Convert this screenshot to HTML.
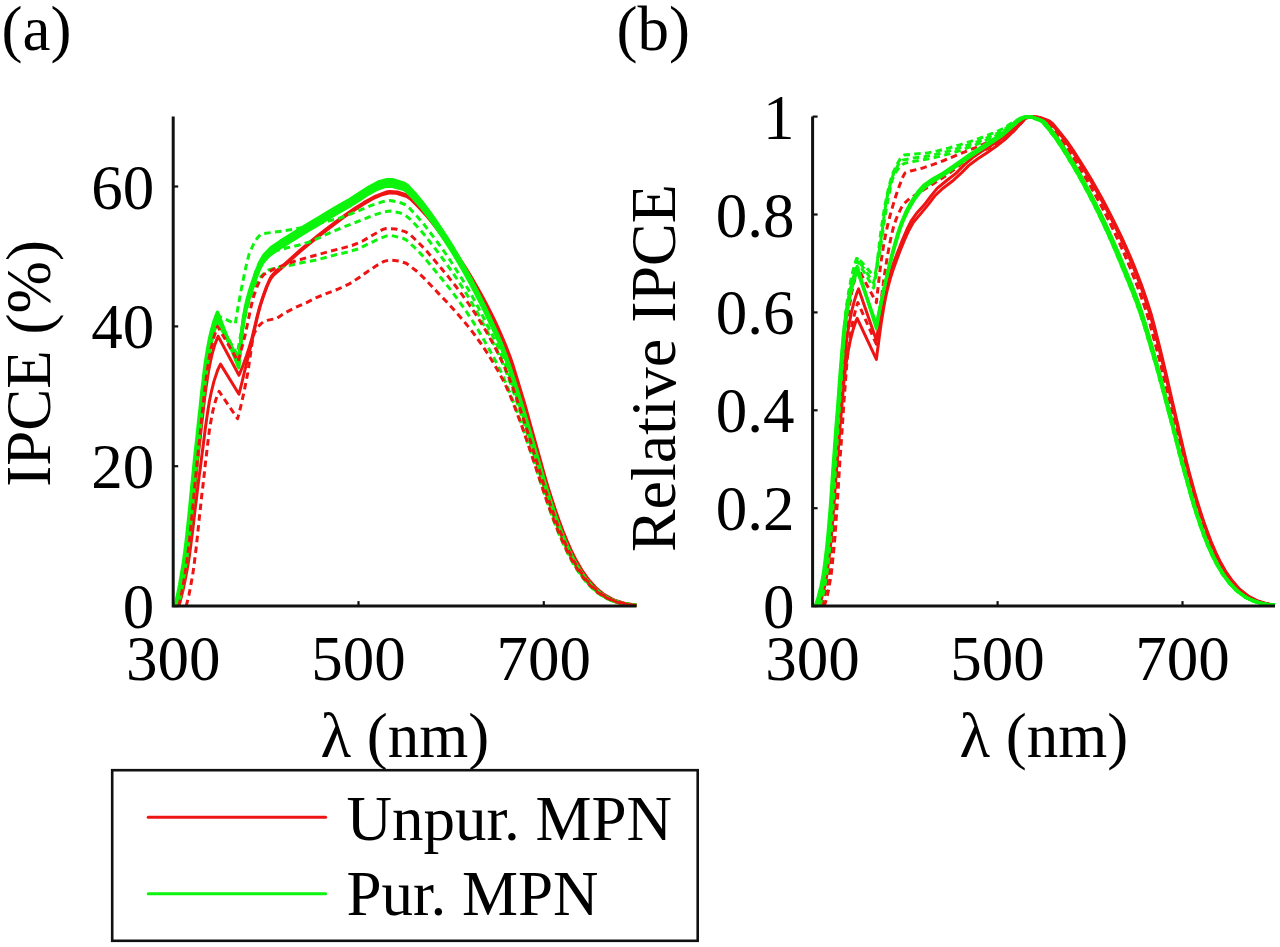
<!DOCTYPE html>
<html><head><meta charset="utf-8"><style>
html,body{margin:0;padding:0;background:#fff;width:1280px;height:947px;overflow:hidden;}
svg{display:block;}
</style></head><body>
<svg width="1280" height="947" viewBox="0 0 1280 947">
<rect width="1280" height="947" fill="#fff"/>
<text x="1.5" y="49.5" font-family="Liberation Serif, serif" font-size="63">(a)</text>
<text x="616.5" y="49.5" font-family="Liberation Serif, serif" font-size="63">(b)</text>
<path d="M178.8,606.1 L181.5,596.4 L183.4,588.5 L185.2,579.6 L187.1,569.8 L189.0,558.5 L189.9,552.0 L190.8,545.1 L191.7,537.8 L192.7,530.3 L193.6,522.6 L194.5,514.7 L195.4,506.9 L196.4,499.0 L197.3,491.3 L198.2,483.8 L199.1,476.5 L200.1,469.5 L201.0,462.4 L201.9,455.1 L202.9,447.8 L203.8,440.5 L204.7,433.2 L205.6,426.2 L206.6,419.4 L207.5,413.1 L209.3,401.7 L211.2,392.5 L214.0,381.1 L217.7,370.0 L220.5,364.1 L239.0,394.2 L241.8,383.0 L244.5,371.7 L247.3,360.3 L250.1,348.9 L252.0,341.0 L253.8,332.7 L255.7,324.3 L257.5,316.3 L260.3,305.9 L264.0,294.6 L267.7,284.8 L270.5,279.1 L273.3,275.3 L281.6,268.1 L290.0,260.7 L298.3,253.2 L306.6,246.1 L315.9,238.5 L325.2,231.2 L334.4,224.2 L343.7,217.4 L353.0,210.9 L362.2,204.9 L372.4,199.0 L381.7,194.9 L390.0,192.9 L396.5,193.3 L406.7,196.5 L410.4,198.9 L418.7,207.3 L426.2,215.4 L433.6,224.6 L440.1,233.1 L446.5,241.9 L453.0,251.2 L459.5,260.9 L465.1,269.6 L470.6,278.6 L476.2,288.0 L481.8,298.0 L487.3,308.4 L492.0,317.7 L496.6,327.4 L501.2,337.6 L504.9,346.4 L508.6,355.9 L512.3,366.5 L515.1,375.1 L517.9,384.0 L520.7,393.2 L523.5,402.4 L526.2,412.0 L529.0,421.9 L531.8,431.8 L534.6,441.7 L537.4,451.4 L540.1,461.3 L542.9,471.2 L545.7,480.9 L548.5,490.1 L551.3,498.8 L555.0,510.1 L558.7,520.8 L562.4,530.7 L566.1,539.7 L570.7,550.3 L575.3,559.7 L580.9,569.2 L587.4,578.7 L594.8,587.1 L603.1,594.3 L613.3,600.0 L624.5,603.5 L635.6,605.2 L636.5,605.3" fill="none" stroke="#ee1414" stroke-width="3.0" stroke-linejoin="round"/>
<path d="M177.8,606.1 L180.6,594.8 L182.5,585.6 L184.3,575.2 L186.2,563.8 L187.1,557.4 L188.0,550.3 L189.0,542.6 L189.9,534.4 L190.8,525.9 L191.7,517.1 L192.7,508.1 L193.6,499.0 L194.5,489.9 L195.4,481.0 L196.4,472.2 L197.3,463.7 L198.2,455.6 L199.1,447.5 L200.1,439.1 L201.0,430.6 L201.9,422.1 L202.9,413.8 L203.8,405.7 L204.7,397.9 L205.6,390.5 L206.6,383.7 L208.4,372.0 L210.3,362.3 L212.1,354.1 L214.9,344.4 L218.1,336.2 L239.0,375.3 L242.7,366.3 L246.4,355.9 L249.2,347.4 L252.0,337.9 L254.7,326.5 L256.6,318.6 L259.4,307.6 L262.2,298.8 L265.9,288.2 L269.6,279.5 L271.4,276.2 L275.1,272.0 L283.5,265.1 L291.8,257.6 L300.1,250.2 L308.5,243.2 L317.7,235.7 L327.0,228.4 L336.3,221.4 L345.5,214.7 L354.8,208.3 L364.1,202.4 L374.3,196.7 L385.4,192.3 L389.1,191.5 L397.4,191.9 L407.6,195.1 L411.3,197.5 L419.7,205.9 L427.1,214.1 L434.5,223.3 L441.0,231.8 L447.5,240.7 L454.0,250.0 L460.4,259.8 L466.0,268.4 L471.6,277.5 L477.1,287.0 L482.7,296.9 L488.2,307.4 L492.9,316.7 L497.5,326.4 L502.1,336.8 L505.8,345.7 L509.6,355.3 L513.3,366.1 L516.0,374.9 L518.8,384.1 L521.6,393.4 L524.4,402.8 L527.2,412.6 L529.9,422.6 L532.7,432.7 L535.5,442.7 L538.3,452.6 L541.1,462.7 L543.8,472.6 L546.6,482.3 L549.4,491.5 L552.2,500.2 L555.9,511.5 L559.6,522.1 L563.3,531.8 L567.0,540.8 L571.6,551.3 L576.3,560.6 L581.8,570.0 L588.3,579.3 L595.7,587.6 L604.1,594.6 L614.3,600.2 L625.4,603.6 L636.5,605.3" fill="none" stroke="#ee1414" stroke-width="3.0" stroke-linejoin="round"/>
<path d="M175.1,606.1 L177.8,600.3 L179.7,591.8 L181.5,582.0 L183.4,571.0 L184.3,565.0 L185.2,558.5 L186.2,551.6 L187.1,544.2 L188.0,536.1 L189.0,527.6 L189.9,518.7 L190.8,509.5 L191.7,500.1 L192.7,490.6 L193.6,481.2 L194.5,471.8 L195.4,462.7 L196.4,453.8 L197.3,445.1 L198.2,436.5 L199.1,427.8 L200.1,419.0 L201.0,410.1 L201.9,401.4 L202.9,392.8 L203.8,384.6 L204.7,376.7 L205.6,369.4 L206.6,362.7 L208.4,351.2 L210.3,341.4 L212.1,333.3 L214.9,323.5 L217.5,316.6 L238.7,364.5 L239.6,354.3 L240.6,344.7 L241.5,335.9 L242.4,327.9 L243.3,321.0 L245.2,310.6 L248.0,299.2 L250.8,290.2 L254.5,279.1 L258.2,269.2 L261.9,261.3 L264.7,257.2 L272.1,250.0 L281.3,243.9 L290.6,238.1 L299.9,232.3 L310.1,226.2 L320.3,220.1 L330.4,213.9 L340.6,207.9 L350.8,202.1 L360.1,196.2 L369.4,190.1 L379.6,184.9 L387.0,182.9 L392.5,182.8 L403.6,186.2 L407.4,188.7 L414.8,196.6 L422.2,205.2 L428.7,213.9 L435.1,223.0 L441.6,232.5 L448.1,242.5 L453.7,251.4 L459.2,260.7 L464.8,270.4 L470.4,280.6 L475.0,289.4 L479.6,298.6 L484.3,308.1 L488.9,317.9 L493.5,327.8 L498.2,338.1 L501.9,346.9 L505.6,356.6 L509.3,367.2 L513.0,378.4 L515.8,386.9 L518.5,395.6 L521.3,404.5 L524.1,413.6 L526.9,422.9 L529.7,432.3 L532.4,441.6 L535.2,451.0 L538.0,460.7 L540.8,470.3 L543.6,479.7 L546.3,488.8 L549.1,497.5 L551.9,506.2 L555.6,517.3 L559.3,527.6 L563.0,537.0 L567.7,547.9 L572.3,557.7 L577.8,567.6 L584.3,577.4 L591.7,586.1 L600.1,593.6 L610.3,599.7 L621.4,603.3 L632.5,605.2 L636.2,605.3" fill="none" stroke="#0cf40c" stroke-width="3.6" stroke-linejoin="round"/>
<path d="M177.8,606.1 L179.7,598.5 L181.5,589.4 L183.4,579.0 L185.2,567.4 L186.2,561.2 L187.1,554.3 L188.0,546.8 L189.0,538.6 L189.9,530.0 L190.8,520.9 L191.7,511.6 L192.7,502.0 L193.6,492.4 L194.5,482.7 L195.4,473.2 L196.4,463.9 L197.3,454.9 L198.2,446.3 L199.1,437.6 L200.1,428.7 L201.0,419.7 L201.9,410.7 L202.9,401.8 L203.8,393.2 L204.7,384.9 L205.6,377.1 L206.6,369.8 L207.5,363.2 L209.3,352.1 L211.2,342.6 L214.0,331.3 L216.8,322.6 L218.1,319.4 L238.7,361.4 L239.6,352.4 L240.6,343.9 L241.5,336.1 L242.4,329.0 L244.3,317.5 L246.1,308.9 L248.9,298.8 L251.7,290.2 L255.4,279.3 L259.1,269.8 L262.8,262.5 L268.4,256.1 L277.6,249.2 L287.8,243.1 L297.1,237.2 L307.3,231.0 L317.5,224.9 L327.7,218.8 L337.9,212.7 L348.0,206.9 L357.3,201.2 L366.6,195.0 L376.8,189.2 L385.1,186.3 L391.6,185.9 L402.7,188.9 L405.5,190.3 L413.8,198.6 L421.3,207.1 L427.7,215.5 L434.2,224.5 L440.7,233.9 L447.2,243.7 L452.8,252.6 L458.3,261.7 L463.9,271.3 L469.4,281.3 L475.0,291.8 L479.6,300.9 L484.3,310.3 L488.9,320.0 L493.5,329.8 L498.2,340.1 L501.9,348.9 L505.6,358.5 L509.3,369.0 L513.0,380.0 L516.7,391.4 L519.5,400.0 L522.3,409.0 L525.0,418.1 L527.8,427.4 L530.6,436.6 L533.4,445.9 L536.1,455.4 L538.9,464.9 L541.7,474.4 L544.5,483.7 L547.3,492.6 L550.0,501.2 L553.8,512.5 L557.5,523.2 L561.2,532.9 L564.9,542.0 L569.5,552.4 L574.1,561.5 L579.7,570.8 L586.2,580.0 L593.6,588.1 L601.9,595.0 L612.1,600.5 L623.2,603.7 L634.4,605.3 L636.2,605.3" fill="none" stroke="#0cf40c" stroke-width="3.6" stroke-linejoin="round"/>
<path d="M175.1,606.1 L177.8,594.5 L179.7,585.1 L181.5,574.6 L183.4,563.0 L184.3,556.7 L185.2,549.7 L186.2,542.1 L187.1,534.0 L188.0,525.4 L189.0,516.5 L189.9,507.3 L190.8,498.0 L191.7,488.6 L192.7,479.3 L193.6,470.0 L194.5,460.9 L195.4,452.1 L196.4,443.7 L197.3,435.3 L198.2,426.7 L199.1,418.0 L200.1,409.2 L201.0,400.5 L201.9,392.0 L202.9,383.8 L203.8,375.9 L204.7,368.5 L205.6,361.7 L207.5,350.0 L209.3,340.1 L211.2,331.7 L214.0,321.7 L216.8,314.0 L217.5,312.4 L238.7,367.6 L239.6,356.2 L240.6,345.5 L241.5,335.6 L242.4,326.8 L243.3,319.3 L245.2,308.3 L247.1,300.0 L249.8,290.3 L252.6,281.7 L256.3,271.1 L260.9,260.3 L263.7,255.6 L271.1,247.8 L280.4,241.4 L289.7,235.6 L298.9,229.7 L309.1,223.6 L319.3,217.5 L329.5,211.3 L339.7,205.3 L349.9,199.6 L359.2,193.6 L368.4,187.5 L378.6,182.1 L387.0,179.7 L392.5,179.7 L403.6,183.1 L407.4,185.6 L414.8,193.5 L422.2,202.3 L428.7,211.0 L435.1,220.1 L441.6,229.7 L448.1,239.8 L453.7,248.8 L459.2,258.2 L464.8,267.9 L470.4,278.2 L475.0,287.1 L479.6,296.3 L484.3,305.9 L488.9,315.7 L493.5,325.7 L498.2,336.1 L501.9,345.0 L505.6,354.8 L509.3,365.4 L513.0,376.7 L515.8,385.3 L518.5,394.0 L521.3,403.0 L524.1,412.2 L526.9,421.5 L529.7,431.0 L532.4,440.4 L535.2,449.9 L538.0,459.6 L540.8,469.3 L543.6,478.8 L546.3,487.9 L549.1,496.7 L551.9,505.5 L555.6,516.6 L559.3,527.0 L563.0,536.5 L567.7,547.5 L572.3,557.3 L577.8,567.3 L584.3,577.2 L591.7,586.0 L600.1,593.5 L610.3,599.6 L621.4,603.2 L632.5,605.2 L636.2,605.2" fill="none" stroke="#0cf40c" stroke-width="3.6" stroke-linejoin="round"/>
<path d="M178.8,606.1 L180.6,598.3 L182.5,588.9 L184.3,578.1 L185.2,572.3 L186.2,566.1 L187.1,559.6 L188.0,552.4 L189.0,544.4 L189.9,535.8 L190.8,526.8 L191.7,517.4 L192.7,507.7 L193.6,497.8 L194.5,488.0 L195.4,478.2 L196.4,468.5 L197.3,459.2 L198.2,450.3 L199.1,441.5 L200.1,432.4 L201.0,423.2 L201.9,414.0 L202.9,405.0 L203.8,396.1 L204.7,387.6 L205.6,379.6 L206.6,372.2 L207.5,365.6 L209.3,354.3 L211.2,344.7 L214.0,333.5 L216.8,325.0 L217.7,322.9 L237.6,357.9 L239.5,346.6 L241.3,336.1 L243.2,326.3 L245.0,317.4 L247.8,305.9 L251.5,294.6 L256.1,283.8 L258.9,279.0 L263.5,273.8 L269.1,269.7 L280.2,266.8 L291.3,265.1 L302.5,262.5 L313.6,260.6 L324.7,257.8 L335.8,254.7 L346.9,252.2 L358.1,249.0 L368.2,243.9 L378.4,239.1 L386.8,235.9 L391.4,235.5 L402.5,238.2 L406.2,239.9 L414.6,247.5 L422.0,255.1 L429.4,263.8 L436.8,272.7 L444.2,281.7 L451.6,291.1 L458.1,299.8 L464.6,309.0 L471.1,318.7 L476.7,327.6 L482.2,337.0 L487.8,346.8 L493.3,356.8 L498.0,365.6 L502.6,375.2 L507.2,386.1 L510.9,395.6 L514.7,405.5 L518.4,415.6 L522.1,426.1 L525.8,437.0 L529.5,448.0 L533.2,459.2 L536.0,467.8 L538.7,476.5 L541.5,485.2 L545.2,496.5 L548.9,507.1 L552.6,517.6 L556.3,527.5 L560.1,536.7 L564.7,547.1 L569.3,556.7 L574.9,566.5 L581.4,576.2 L588.8,585.1 L597.1,592.6 L607.3,598.9 L618.4,602.8 L629.6,605.0 L636.0,605.4" fill="none" stroke="#0cf40c" stroke-width="3.0" stroke-linejoin="round" stroke-dasharray="6.5,4.3"/>
<path d="M177.8,606.1 L179.7,598.4 L181.5,589.2 L183.4,578.6 L185.2,566.8 L186.2,560.5 L187.1,553.5 L188.0,545.8 L189.0,537.5 L189.9,528.6 L190.8,519.4 L191.7,509.9 L192.7,500.2 L193.6,490.4 L194.5,480.7 L195.4,471.1 L196.4,461.8 L197.3,452.8 L198.2,444.1 L199.1,435.2 L200.1,426.2 L201.0,417.1 L201.9,408.0 L202.9,399.1 L203.8,390.5 L204.7,382.2 L205.6,374.5 L206.6,367.4 L207.5,361.0 L209.3,350.1 L211.2,340.8 L214.0,329.9 L216.8,321.5 L217.7,319.4 L237.1,354.4 L239.0,344.0 L240.8,334.0 L242.7,324.6 L244.5,315.7 L246.4,307.3 L249.2,295.7 L252.0,285.1 L254.7,275.0 L257.5,266.6 L259.4,262.8 L263.1,257.7 L265.9,255.1 L276.1,250.8 L287.2,247.8 L298.3,245.3 L309.4,242.0 L319.6,237.6 L329.8,232.8 L340.0,228.5 L351.1,224.1 L362.2,219.8 L372.4,215.6 L383.5,212.0 L390.0,211.0 L399.3,212.7 L404.9,214.9 L410.4,219.4 L417.8,227.2 L425.2,235.8 L431.7,244.1 L438.2,252.6 L444.7,261.3 L451.2,270.5 L457.7,280.1 L464.2,290.2 L469.7,299.3 L475.3,308.9 L480.8,319.0 L486.4,329.6 L491.0,338.6 L495.7,347.8 L500.3,357.7 L504.9,368.6 L508.6,378.3 L512.3,388.6 L516.0,399.3 L519.7,410.2 L523.5,421.5 L526.2,430.2 L529.0,438.9 L531.8,447.8 L534.6,456.6 L537.4,465.8 L540.1,474.9 L542.9,483.9 L545.7,492.7 L549.4,503.8 L553.1,514.7 L556.8,525.0 L560.5,534.5 L565.2,545.3 L569.8,555.2 L575.3,565.4 L581.8,575.5 L589.2,584.6 L597.6,592.4 L606.8,598.3 L618.0,602.6 L629.1,604.9 L636.5,605.3" fill="none" stroke="#0cf40c" stroke-width="3.0" stroke-linejoin="round" stroke-dasharray="6.5,4.3"/>
<path d="M176.9,606.1 L178.8,598.5 L180.6,589.4 L182.5,579.0 L184.3,567.5 L185.2,561.3 L186.2,554.5 L187.1,547.1 L188.0,539.0 L189.0,530.4 L189.9,521.4 L190.8,512.0 L191.7,502.5 L192.7,492.9 L193.6,483.2 L194.5,473.6 L195.4,464.3 L196.4,455.2 L197.3,446.5 L198.2,437.9 L199.1,429.0 L200.1,420.0 L201.0,411.0 L201.9,402.1 L202.9,393.4 L203.8,384.9 L204.7,376.9 L205.6,369.5 L206.6,362.6 L208.4,351.0 L210.3,341.2 L212.1,333.0 L214.9,323.2 L216.8,318.0 L217.7,315.9 L235.3,323.6 L237.1,312.4 L239.0,301.7 L240.8,291.8 L242.7,282.5 L244.5,273.5 L246.4,264.7 L249.2,253.6 L253.8,243.6 L257.5,237.8 L260.3,234.9 L262.2,233.7 L273.3,232.3 L284.4,230.8 L295.5,229.0 L306.6,226.7 L317.7,223.6 L328.9,220.9 L340.0,218.0 L351.1,213.9 L361.3,209.6 L371.5,205.4 L382.6,201.7 L390.0,200.5 L399.3,202.3 L404.9,204.5 L409.5,208.2 L416.9,216.1 L424.3,224.8 L430.8,233.3 L437.3,242.0 L443.8,251.0 L450.3,260.5 L456.7,270.5 L462.3,279.4 L467.9,288.7 L473.4,298.5 L479.0,308.8 L483.6,317.8 L488.2,327.0 L492.9,336.3 L497.5,346.1 L502.1,356.6 L505.8,365.9 L509.6,376.1 L513.3,386.8 L517.0,397.8 L520.7,409.0 L523.5,417.7 L526.2,426.6 L529.0,435.6 L531.8,444.7 L534.6,453.7 L537.4,463.0 L540.1,472.4 L542.9,481.6 L545.7,490.5 L549.4,501.8 L553.1,512.9 L556.8,523.4 L560.5,533.1 L565.2,544.1 L569.8,554.2 L575.3,564.6 L580.9,573.5 L587.4,582.1 L595.7,590.5 L605.0,597.1 L615.2,601.7 L626.3,604.4 L636.5,605.3" fill="none" stroke="#0cf40c" stroke-width="3.0" stroke-linejoin="round" stroke-dasharray="6.5,4.3"/>
<path d="M186.2,606.1 L189.0,594.8 L190.8,585.3 L192.7,574.5 L193.6,568.4 L194.5,561.5 L195.4,554.0 L196.4,545.9 L197.3,537.4 L198.2,528.7 L199.1,519.8 L200.1,511.0 L201.0,502.3 L201.9,494.0 L202.9,486.1 L203.8,478.1 L204.7,469.9 L205.6,461.6 L206.6,453.4 L207.5,445.5 L208.4,438.0 L209.3,431.1 L211.2,419.5 L213.0,410.3 L215.8,399.8 L217.7,394.5 L219.1,391.4 L237.6,418.7 L240.4,408.0 L242.2,400.1 L244.1,391.5 L245.9,382.4 L247.8,372.8 L248.7,366.8 L249.6,360.1 L250.6,353.2 L251.5,346.5 L253.4,335.9 L254.3,332.9 L258.0,326.9 L260.8,323.9 L263.5,321.8 L268.2,320.1 L276.5,318.5 L285.8,312.4 L296.0,307.2 L306.2,302.8 L316.4,297.6 L327.5,293.1 L338.6,288.9 L348.8,284.2 L358.1,278.3 L367.3,271.7 L376.6,265.6 L384.0,261.4 L389.6,260.0 L398.8,261.0 L406.2,263.3 L415.5,270.2 L423.8,277.9 L431.3,285.7 L438.7,293.6 L446.1,301.3 L453.5,309.3 L460.9,317.7 L468.3,326.6 L474.8,335.0 L481.3,344.0 L487.8,353.8 L493.3,362.8 L498.9,372.4 L504.5,382.9 L509.1,392.9 L512.8,402.0 L516.5,411.7 L520.2,421.7 L523.9,432.0 L527.6,442.8 L531.3,453.9 L535.0,464.9 L538.7,476.3 L541.5,484.9 L545.2,496.2 L548.9,506.9 L552.6,517.0 L556.3,526.7 L560.1,535.8 L564.7,546.0 L569.3,555.5 L574.9,565.5 L581.4,575.2 L588.8,584.2 L597.1,591.9 L606.4,597.8 L617.5,602.3 L628.6,604.7 L636.0,605.4" fill="none" stroke="#ee1414" stroke-width="3.0" stroke-linejoin="round" stroke-dasharray="6.5,4.3"/>
<path d="M178.8,606.1 L180.6,598.4 L182.5,589.1 L184.3,578.5 L186.2,566.6 L187.1,560.2 L188.0,553.1 L189.0,545.2 L189.9,536.7 L190.8,527.8 L191.7,518.5 L192.7,508.9 L193.6,499.2 L194.5,489.4 L195.4,479.7 L196.4,470.2 L197.3,461.0 L198.2,452.3 L199.1,443.5 L200.1,434.6 L201.0,425.5 L201.9,416.4 L202.9,407.4 L203.8,398.7 L204.7,390.3 L205.6,382.4 L206.6,375.1 L207.5,368.5 L209.3,357.4 L211.2,348.0 L214.0,336.9 L216.8,328.5 L217.7,326.4 L238.1,361.4 L240.8,351.6 L243.6,341.2 L245.5,333.5 L247.3,324.8 L249.2,315.7 L251.0,306.9 L253.8,295.9 L257.5,285.6 L260.3,279.4 L262.2,276.4 L264.0,274.5 L274.2,268.9 L285.3,264.4 L296.4,260.7 L307.6,257.5 L318.7,254.4 L329.8,251.3 L340.9,248.5 L352.0,245.5 L362.2,241.3 L372.4,235.2 L382.6,229.5 L385.4,228.6 L395.6,228.9 L405.8,231.9 L410.4,234.9 L418.7,242.8 L426.2,250.6 L433.6,259.2 L441.0,268.0 L448.4,276.9 L455.8,286.3 L462.3,294.9 L468.8,304.0 L475.3,313.7 L480.8,322.5 L486.4,331.8 L492.0,341.8 L497.5,352.3 L502.1,361.7 L506.8,372.0 L510.5,381.3 L514.2,391.5 L517.9,402.3 L521.6,413.2 L525.3,424.6 L528.1,433.5 L530.9,442.4 L533.6,451.4 L536.4,460.3 L539.2,469.5 L542.0,478.7 L544.8,487.7 L548.5,499.1 L552.2,509.9 L555.9,520.3 L559.6,530.1 L564.2,541.1 L568.9,551.3 L573.5,560.4 L579.1,569.7 L585.5,578.9 L592.9,587.1 L601.3,594.2 L611.5,599.9 L622.6,603.3 L633.7,605.2 L636.5,605.3" fill="none" stroke="#ee1414" stroke-width="3.0" stroke-linejoin="round" stroke-dasharray="6.5,4.3"/>
<path d="M818.1,606.1 L819.1,605.0 L820.0,603.2 L821.8,597.7 L824.6,586.7 L826.5,577.2 L827.4,570.9 L828.3,563.9 L829.2,556.3 L830.2,548.3 L831.1,539.1 L832.0,528.7 L832.9,517.3 L833.9,505.3 L834.8,493.0 L835.7,480.7 L836.6,468.8 L837.6,457.5 L838.5,446.6 L839.4,435.3 L840.3,423.9 L841.3,412.6 L842.2,401.6 L843.1,391.1 L844.0,381.4 L845.0,372.7 L845.9,365.2 L846.8,358.9 L848.7,348.1 L850.5,339.4 L853.3,328.9 L856.1,320.6 L857.2,318.3 L876.4,359.4 L877.3,352.0 L878.3,344.8 L879.2,337.8 L880.1,331.0 L881.0,324.5 L882.0,318.3 L883.8,306.9 L885.7,297.0 L887.5,289.0 L890.3,278.6 L893.1,269.8 L896.8,259.5 L900.5,249.8 L904.2,240.6 L908.8,230.4 L913.4,222.3 L920.8,213.6 L928.2,204.6 L934.7,196.0 L943.0,188.2 L952.2,181.3 L960.6,173.7 L968.9,165.4 L978.1,158.5 L987.4,152.4 L996.6,146.1 L1005.0,139.3 L1013.3,131.5 L1020.7,123.4 L1024.4,119.2 L1026.2,117.9 L1031.8,116.7 L1037.3,117.1 L1047.5,120.7 L1051.2,123.5 L1058.6,132.3 L1065.1,140.6 L1071.5,149.9 L1078.0,160.0 L1083.6,168.8 L1089.1,178.0 L1094.7,187.7 L1100.2,197.7 L1105.8,208.0 L1110.4,217.0 L1115.0,226.3 L1119.6,236.0 L1124.3,246.1 L1128.9,256.7 L1132.6,265.5 L1136.3,274.8 L1140.0,284.5 L1143.7,294.8 L1147.4,305.9 L1150.2,314.9 L1152.9,324.8 L1155.7,335.4 L1158.5,346.3 L1161.2,357.4 L1164.0,368.7 L1165.9,376.5 L1167.7,384.4 L1169.6,392.4 L1171.4,400.4 L1173.3,408.3 L1175.1,416.2 L1177.0,424.0 L1178.8,431.9 L1180.7,439.9 L1182.5,447.7 L1185.3,459.2 L1188.1,470.1 L1190.8,480.4 L1193.6,490.5 L1196.4,500.1 L1199.2,509.3 L1202.9,520.6 L1206.6,531.1 L1210.3,541.0 L1214.9,551.9 L1219.5,561.4 L1225.1,571.3 L1231.5,580.6 L1238.9,589.0 L1248.2,596.3 L1256.5,600.7 L1267.6,604.1 L1275.0,605.1" fill="none" stroke="#ee1414" stroke-width="3.0" stroke-linejoin="round"/>
<path d="M817.2,606.1 L818.1,605.0 L819.1,603.1 L820.9,597.7 L823.7,586.5 L825.5,577.3 L826.5,571.3 L827.4,564.4 L828.3,556.9 L829.2,548.8 L830.2,540.3 L831.1,530.5 L832.0,519.5 L832.9,507.6 L833.9,495.1 L834.8,482.3 L835.7,469.5 L836.6,457.0 L837.6,445.1 L838.5,433.8 L839.4,422.2 L840.3,410.3 L841.3,398.5 L842.2,386.8 L843.1,375.6 L844.0,365.0 L845.0,355.2 L845.9,346.5 L846.8,339.0 L847.7,332.6 L849.6,321.5 L851.4,312.4 L854.2,301.4 L857.0,292.5 L858.6,288.9 L876.4,340.3 L878.3,328.6 L880.1,317.4 L882.0,307.0 L883.8,297.6 L885.7,289.2 L888.4,278.7 L891.2,269.7 L894.9,259.2 L898.6,249.7 L902.3,240.4 L906.9,229.5 L911.6,220.3 L917.1,212.7 L924.5,204.6 L931.0,195.9 L937.4,188.1 L946.7,180.5 L955.9,173.4 L964.3,164.9 L972.6,157.6 L981.8,151.3 L992.0,144.9 L1001.3,138.7 L1010.5,131.8 L1017.9,125.6 L1024.4,119.0 L1026.2,117.9 L1033.6,116.6 L1040.1,117.4 L1049.3,121.0 L1053.0,124.0 L1060.4,132.9 L1066.9,141.2 L1073.4,150.6 L1079.9,160.7 L1085.4,169.5 L1091.0,178.8 L1096.5,188.5 L1102.1,198.5 L1107.6,208.9 L1112.2,217.9 L1116.9,227.3 L1121.5,237.0 L1126.1,247.1 L1130.7,257.7 L1134.4,266.6 L1138.1,276.0 L1141.8,285.9 L1145.5,296.4 L1148.3,304.9 L1151.1,314.0 L1153.9,324.1 L1156.6,334.8 L1159.4,345.9 L1162.2,357.3 L1164.9,368.8 L1166.8,376.7 L1168.6,384.8 L1170.5,393.0 L1172.3,401.1 L1174.2,409.2 L1176.0,417.2 L1177.9,425.1 L1179.7,433.2 L1181.6,441.2 L1183.4,449.1 L1186.2,460.6 L1189.0,471.5 L1191.8,481.8 L1194.5,491.8 L1197.3,501.4 L1200.1,510.5 L1203.8,521.7 L1207.5,532.1 L1211.2,541.9 L1215.8,552.7 L1220.4,562.1 L1226.0,571.9 L1232.5,581.1 L1239.9,589.4 L1249.1,596.6 L1257.4,600.9 L1268.5,604.2 L1275.0,605.1" fill="none" stroke="#ee1414" stroke-width="3.0" stroke-linejoin="round"/>
<path d="M823.7,606.1 L824.6,604.7 L825.5,602.3 L827.4,595.3 L829.2,586.4 L831.1,574.8 L832.0,567.1 L832.9,558.4 L833.9,549.0 L834.8,538.7 L835.7,526.5 L836.6,512.9 L837.6,498.4 L838.5,483.6 L839.4,468.9 L840.3,454.9 L841.3,441.8 L842.2,428.3 L843.1,414.6 L844.0,401.0 L845.0,387.8 L845.9,375.5 L846.8,364.3 L847.7,354.6 L848.7,346.7 L849.6,339.8 L851.4,328.2 L853.3,319.1 L856.1,307.9 L857.9,302.6 L876.4,344.2 L877.3,335.1 L878.3,326.2 L879.2,317.7 L880.1,309.5 L881.0,301.6 L882.0,294.0 L882.9,286.7 L883.8,279.8 L884.7,273.2 L885.7,267.0 L887.5,255.5 L889.4,245.4 L891.2,236.3 L894.0,225.0 L897.7,215.1 L901.4,207.6 L904.2,203.5 L909.7,198.4 L919.9,192.3 L929.1,186.4 L938.4,180.6 L947.6,174.5 L956.9,167.4 L965.2,160.2 L975.4,154.1 L985.5,149.7 L995.7,145.0 L1005.0,138.9 L1013.3,131.4 L1020.7,123.7 L1025.3,118.8 L1029.0,116.8 L1033.6,117.0 L1043.8,120.5 L1046.6,122.3 L1054.0,130.5 L1061.4,140.0 L1067.8,149.2 L1074.3,159.2 L1079.9,168.0 L1085.4,177.2 L1091.0,186.8 L1096.5,196.8 L1102.1,207.1 L1106.7,216.1 L1111.3,225.4 L1115.9,235.1 L1120.6,245.2 L1125.2,255.7 L1129.8,266.7 L1133.5,275.9 L1137.2,285.4 L1140.9,295.4 L1144.6,306.1 L1147.4,314.9 L1150.2,324.4 L1152.9,334.4 L1155.7,344.8 L1158.5,355.4 L1161.2,366.1 L1164.0,377.2 L1166.8,388.5 L1169.6,400.0 L1172.3,411.4 L1175.1,422.8 L1177.9,434.3 L1180.7,445.9 L1183.4,457.2 L1186.2,468.0 L1189.0,478.3 L1191.8,488.4 L1194.5,498.2 L1197.3,507.5 L1200.1,516.2 L1203.8,527.0 L1207.5,537.1 L1211.2,546.4 L1215.8,556.6 L1221.4,567.2 L1226.9,576.1 L1234.3,585.5 L1241.7,592.7 L1251.0,598.8 L1262.1,602.9 L1273.2,605.0 L1275.0,605.1" fill="none" stroke="#ee1414" stroke-width="3.0" stroke-linejoin="round" stroke-dasharray="6.5,4.3"/>
<path d="M820.9,606.1 L821.8,604.7 L822.8,602.4 L824.6,595.5 L826.5,586.5 L828.3,575.8 L829.2,568.6 L830.2,560.4 L831.1,551.2 L832.0,541.5 L832.9,530.7 L833.9,518.2 L834.8,504.3 L835.7,489.5 L836.6,474.3 L837.6,459.1 L838.5,444.3 L839.4,430.5 L840.3,416.9 L841.3,402.9 L842.2,388.8 L843.1,374.8 L844.0,361.4 L845.0,348.8 L845.9,337.3 L846.8,327.2 L847.7,318.9 L848.7,311.6 L849.6,305.0 L851.4,294.0 L853.3,284.9 L856.1,273.7 L857.9,268.3 L876.4,302.6 L877.3,293.8 L878.3,285.4 L879.2,277.2 L880.1,269.5 L881.0,262.3 L882.0,255.5 L883.8,243.9 L885.7,234.2 L887.5,225.8 L890.3,214.7 L893.1,204.9 L895.8,196.0 L899.5,185.5 L903.2,176.3 L904.2,174.3 L905.1,173.0 L910.6,171.0 L921.7,168.3 L932.8,164.6 L943.9,160.5 L955.0,155.9 L966.1,151.3 L977.2,147.0 L987.4,142.5 L997.6,137.1 L1007.7,130.8 L1017.0,124.5 L1025.3,118.5 L1029.0,116.8 L1033.6,117.0 L1043.8,120.5 L1046.6,122.3 L1054.0,130.5 L1061.4,140.0 L1067.8,149.2 L1074.3,159.2 L1079.9,168.0 L1085.4,177.2 L1091.0,186.8 L1096.5,196.8 L1102.1,207.1 L1106.7,216.1 L1111.3,225.4 L1115.9,235.1 L1120.6,245.2 L1125.2,255.7 L1129.8,266.7 L1133.5,275.9 L1137.2,285.4 L1140.9,295.4 L1144.6,306.1 L1147.4,314.9 L1150.2,324.4 L1152.9,334.4 L1155.7,344.8 L1158.5,355.4 L1161.2,366.1 L1164.0,377.2 L1166.8,388.5 L1169.6,400.0 L1172.3,411.4 L1175.1,422.8 L1177.9,434.3 L1180.7,445.9 L1183.4,457.2 L1186.2,468.0 L1189.0,478.3 L1191.8,488.4 L1194.5,498.2 L1197.3,507.5 L1200.1,516.2 L1203.8,527.0 L1207.5,537.1 L1211.2,546.4 L1215.8,556.6 L1221.4,567.2 L1226.9,576.1 L1234.3,585.5 L1241.7,592.7 L1251.0,598.8 L1262.1,602.9 L1273.2,605.0 L1275.0,605.1" fill="none" stroke="#ee1414" stroke-width="3.0" stroke-linejoin="round" stroke-dasharray="6.5,4.3"/>
<path d="M814.4,606.1 L815.4,605.5 L816.3,604.6 L817.2,602.7 L819.1,597.1 L821.8,585.6 L823.7,575.8 L824.6,569.6 L825.5,562.6 L826.5,554.8 L827.4,546.4 L828.3,537.4 L829.2,527.3 L830.2,516.1 L831.1,503.7 L832.0,490.7 L832.9,477.4 L833.9,463.9 L834.8,450.7 L835.7,438.0 L836.6,425.9 L837.6,413.8 L838.5,401.4 L839.4,388.9 L840.3,376.6 L841.3,364.6 L842.2,353.2 L843.1,342.6 L844.0,333.0 L845.0,324.7 L845.9,317.6 L846.8,311.2 L848.7,300.2 L850.5,291.2 L853.3,280.0 L856.1,271.2 L857.2,268.6 L876.4,326.6 L878.3,316.8 L880.1,307.4 L882.0,298.4 L883.8,289.8 L885.7,281.4 L887.5,273.5 L890.3,262.1 L893.1,251.4 L895.8,241.4 L898.6,232.2 L902.3,221.5 L906.9,211.0 L912.5,201.1 L919.0,191.9 L924.5,186.0 L933.7,179.7 L943.9,173.7 L953.2,167.4 L962.4,160.8 L971.7,154.5 L980.9,148.5 L990.2,142.6 L999.4,136.5 L1008.7,129.0 L1017.0,121.8 L1022.5,118.2 L1026.2,116.9 L1029.9,116.7 L1038.3,119.0 L1042.9,121.2 L1046.6,124.5 L1053.0,132.8 L1059.5,141.6 L1066.0,151.5 L1071.5,160.6 L1077.1,169.9 L1082.6,179.7 L1088.2,190.0 L1093.7,200.6 L1098.4,209.8 L1103.0,219.3 L1107.6,229.2 L1112.2,239.5 L1116.9,250.1 L1121.5,261.2 L1125.2,270.1 L1128.9,279.2 L1132.6,288.4 L1136.3,297.9 L1140.0,308.1 L1143.7,319.3 L1146.5,328.4 L1149.2,337.7 L1152.0,347.4 L1154.8,357.2 L1157.6,367.1 L1160.3,377.3 L1163.1,387.8 L1165.9,398.4 L1168.6,409.0 L1171.4,419.6 L1174.2,430.5 L1177.0,441.6 L1179.7,452.5 L1182.5,463.2 L1185.3,473.5 L1188.1,483.6 L1190.8,493.5 L1193.6,503.1 L1196.4,512.2 L1200.1,523.3 L1203.8,533.7 L1207.5,543.3 L1212.1,553.9 L1216.7,563.1 L1222.3,572.8 L1228.8,581.8 L1236.2,589.9 L1245.4,596.9 L1253.7,601.1 L1264.8,604.2 L1275.0,605.1" fill="none" stroke="#0cf40c" stroke-width="3.2" stroke-linejoin="round"/>
<path d="M816.3,606.1 L817.2,604.9 L818.1,602.9 L820.0,597.0 L821.8,589.3 L823.7,580.5 L824.6,575.1 L825.5,568.5 L826.5,561.1 L827.4,553.0 L828.3,544.3 L829.2,535.0 L830.2,524.3 L831.1,512.4 L832.0,499.5 L832.9,486.0 L833.9,472.3 L834.8,458.7 L835.7,445.4 L836.6,432.9 L837.6,420.8 L838.5,408.3 L839.4,395.6 L840.3,383.0 L841.3,370.6 L842.2,358.8 L843.1,347.7 L844.0,337.6 L845.0,328.7 L845.9,321.3 L846.8,314.7 L848.7,303.2 L850.5,293.9 L853.3,282.4 L856.1,273.4 L857.2,270.8 L876.4,324.6 L878.3,315.4 L880.1,306.5 L882.0,298.0 L883.8,289.7 L885.7,281.7 L888.4,270.3 L891.2,259.6 L894.0,249.4 L896.8,239.7 L899.5,230.8 L903.2,220.7 L907.9,210.6 L913.4,201.1 L919.9,192.3 L926.4,186.0 L935.6,180.0 L945.8,173.7 L955.0,167.3 L964.3,160.8 L973.5,154.5 L982.8,148.5 L992.0,142.5 L1001.3,136.2 L1009.6,129.0 L1017.9,121.5 L1023.5,118.0 L1027.2,116.8 L1031.8,116.8 L1042.0,120.4 L1044.7,122.2 L1052.1,130.9 L1058.6,139.6 L1065.1,149.3 L1070.6,158.3 L1076.2,167.5 L1081.7,177.2 L1087.3,187.4 L1092.8,197.9 L1097.4,207.0 L1102.1,216.4 L1106.7,226.2 L1111.3,236.3 L1115.9,246.9 L1120.6,257.8 L1124.3,266.8 L1128.0,275.8 L1131.7,284.9 L1135.4,294.3 L1139.1,304.3 L1142.8,315.2 L1145.5,324.1 L1148.3,333.4 L1151.1,343.0 L1153.9,352.7 L1156.6,362.6 L1159.4,372.8 L1162.2,383.2 L1164.9,393.8 L1167.7,404.5 L1170.5,415.2 L1173.3,426.0 L1176.0,437.0 L1178.8,448.1 L1181.6,459.0 L1184.4,469.5 L1187.1,479.6 L1189.9,489.6 L1192.7,499.3 L1195.5,508.6 L1198.2,517.3 L1201.9,528.0 L1205.6,538.1 L1209.3,547.3 L1214.0,557.3 L1219.5,567.8 L1225.1,576.7 L1232.5,585.9 L1239.9,593.0 L1249.1,599.0 L1260.2,603.0 L1271.3,605.1 L1275.0,605.1" fill="none" stroke="#0cf40c" stroke-width="3.2" stroke-linejoin="round"/>
<path d="M814.4,606.1 L815.4,604.9 L816.3,603.1 L818.1,597.5 L820.9,586.1 L822.8,576.9 L823.7,571.0 L824.6,564.2 L825.5,556.6 L826.5,548.5 L827.4,539.9 L828.3,530.5 L829.2,519.7 L830.2,507.8 L831.1,495.1 L832.0,482.0 L832.9,468.7 L833.9,455.5 L834.8,442.7 L835.7,430.6 L836.6,418.9 L837.6,406.8 L838.5,394.5 L839.4,382.2 L840.3,370.1 L841.3,358.5 L842.2,347.6 L843.1,337.5 L844.0,328.4 L845.0,320.6 L845.9,313.9 L847.7,302.3 L849.6,292.6 L852.4,281.0 L855.1,271.5 L857.2,266.4 L876.4,328.6 L878.3,318.2 L880.1,308.4 L882.0,298.9 L883.8,289.8 L885.7,281.1 L887.5,272.8 L889.4,264.9 L892.1,253.7 L894.9,243.3 L897.7,233.6 L901.4,222.5 L906.0,211.5 L911.6,201.1 L918.0,191.6 L923.6,185.4 L932.8,178.9 L943.0,173.1 L952.2,166.8 L961.5,160.2 L970.7,153.9 L980.0,147.9 L989.2,142.1 L998.5,136.2 L1007.7,129.1 L1016.1,122.0 L1022.5,117.9 L1026.2,116.8 L1030.9,116.8 L1041.0,120.4 L1043.8,122.2 L1051.2,130.9 L1057.7,139.6 L1064.1,149.3 L1069.7,158.3 L1075.2,167.5 L1080.8,177.2 L1086.3,187.4 L1091.9,197.9 L1096.5,207.0 L1101.1,216.4 L1105.8,226.2 L1110.4,236.3 L1115.0,246.9 L1119.6,257.8 L1123.3,266.8 L1127.0,275.8 L1130.7,284.9 L1134.4,294.2 L1138.1,304.1 L1141.8,314.8 L1144.6,323.5 L1147.4,332.7 L1150.2,342.1 L1152.9,351.8 L1155.7,361.6 L1158.5,371.6 L1161.2,381.8 L1164.0,392.3 L1166.8,402.9 L1169.6,413.4 L1172.3,424.1 L1175.1,435.0 L1177.9,446.0 L1180.7,456.9 L1183.4,467.4 L1186.2,477.5 L1189.0,487.6 L1191.8,497.4 L1194.5,506.8 L1197.3,515.6 L1201.0,526.5 L1204.7,536.6 L1208.4,546.0 L1213.0,556.2 L1217.7,565.2 L1223.2,574.5 L1229.7,583.1 L1238.0,591.8 L1247.3,598.2 L1258.4,602.6 L1269.5,605.0 L1275.0,605.1" fill="none" stroke="#0cf40c" stroke-width="3.2" stroke-linejoin="round"/>
<path d="M819.1,606.1 L820.0,604.7 L820.9,602.4 L822.8,595.7 L824.6,586.9 L826.5,576.6 L827.4,569.9 L828.3,561.9 L829.2,553.1 L830.2,543.6 L831.1,533.5 L832.0,521.7 L832.9,508.4 L833.9,494.1 L834.8,479.2 L835.7,464.0 L836.6,449.1 L837.6,434.8 L838.5,421.3 L839.4,407.7 L840.3,393.7 L841.3,379.7 L842.2,366.0 L843.1,352.8 L844.0,340.5 L845.0,329.4 L845.9,319.7 L846.8,311.6 L847.7,304.5 L848.7,298.1 L850.5,287.1 L852.4,278.1 L855.1,266.9 L857.2,261.0 L873.6,287.9 L875.5,277.4 L877.3,266.6 L879.2,255.4 L881.0,243.9 L882.0,237.8 L882.9,231.4 L883.8,224.8 L884.7,218.4 L886.6,207.2 L888.4,197.3 L890.3,188.1 L892.1,180.4 L893.1,177.5 L895.8,172.2 L899.5,167.1 L902.3,164.6 L905.1,163.1 L916.2,160.9 L927.3,159.1 L938.4,156.6 L949.5,153.7 L960.6,150.4 L971.7,146.4 L982.8,141.9 L992.9,137.2 L1003.1,131.8 L1012.4,124.3 L1019.8,118.8 L1023.5,117.1 L1026.2,116.6 L1031.8,117.3 L1040.1,120.6 L1042.9,122.6 L1050.3,131.5 L1056.7,140.2 L1063.2,150.0 L1068.8,159.1 L1074.3,168.3 L1079.9,178.1 L1085.4,188.2 L1091.0,198.8 L1095.6,207.9 L1100.2,217.4 L1104.8,227.2 L1109.5,237.4 L1114.1,248.0 L1118.7,259.0 L1122.4,267.9 L1126.1,276.9 L1129.8,285.9 L1133.5,295.1 L1137.2,304.9 L1140.9,315.6 L1143.7,324.2 L1146.5,333.2 L1149.2,342.5 L1152.0,352.0 L1154.8,361.6 L1157.6,371.4 L1160.3,381.5 L1163.1,391.8 L1165.9,402.2 L1168.6,412.6 L1171.4,423.1 L1174.2,433.9 L1177.0,444.8 L1179.7,455.6 L1182.5,466.1 L1185.3,476.2 L1188.1,486.2 L1190.8,496.1 L1193.6,505.6 L1196.4,514.5 L1200.1,525.4 L1203.8,535.7 L1207.5,545.1 L1212.1,555.5 L1216.7,564.5 L1222.3,573.9 L1228.8,582.7 L1236.2,590.6 L1245.4,597.4 L1252.8,601.0 L1263.9,604.2 L1275.0,605.1" fill="none" stroke="#0cf40c" stroke-width="3.0" stroke-linejoin="round" stroke-dasharray="6.5,4.3"/>
<path d="M818.1,606.1 L819.1,604.8 L820.0,602.5 L821.8,596.0 L823.7,587.5 L825.5,577.6 L826.5,571.2 L827.4,563.6 L828.3,555.1 L829.2,546.0 L830.2,536.3 L831.1,525.2 L832.0,512.6 L832.9,498.9 L833.9,484.4 L834.8,469.5 L835.7,454.7 L836.6,440.3 L837.6,426.7 L838.5,413.5 L839.4,399.9 L840.3,386.1 L841.3,372.4 L842.2,359.1 L843.1,346.5 L844.0,334.7 L845.0,324.2 L845.9,315.2 L846.8,307.6 L847.7,300.7 L849.6,289.0 L851.4,279.5 L853.3,271.3 L856.1,261.4 L857.2,258.6 L873.6,283.0 L875.5,272.9 L877.3,262.1 L879.2,250.8 L881.0,239.0 L882.0,232.5 L882.9,225.5 L883.8,218.3 L884.7,211.3 L886.6,199.8 L888.4,191.3 L891.2,180.5 L893.1,175.0 L897.7,165.7 L900.5,161.7 L902.3,160.1 L913.4,158.0 L924.5,156.7 L935.6,154.4 L946.7,151.6 L957.8,148.4 L968.9,144.8 L980.0,140.8 L991.1,136.2 L1001.3,131.6 L1010.5,125.1 L1019.8,118.6 L1024.4,116.8 L1029.0,116.8 L1040.1,120.6 L1042.9,122.6 L1050.3,131.5 L1056.7,140.2 L1063.2,150.0 L1068.8,159.1 L1074.3,168.3 L1079.9,178.1 L1085.4,188.2 L1091.0,198.8 L1095.6,207.9 L1100.2,217.4 L1104.8,227.2 L1109.5,237.4 L1114.1,248.0 L1118.7,259.0 L1122.4,267.9 L1126.1,276.9 L1129.8,285.9 L1133.5,295.1 L1137.2,304.9 L1140.9,315.6 L1143.7,324.2 L1146.5,333.2 L1149.2,342.5 L1152.0,352.0 L1154.8,361.6 L1157.6,371.4 L1160.3,381.5 L1163.1,391.8 L1165.9,402.2 L1168.6,412.6 L1171.4,423.1 L1174.2,433.9 L1177.0,444.8 L1179.7,455.6 L1182.5,466.1 L1185.3,476.2 L1188.1,486.2 L1190.8,496.1 L1193.6,505.6 L1196.4,514.5 L1200.1,525.4 L1203.8,535.7 L1207.5,545.1 L1212.1,555.5 L1216.7,564.5 L1222.3,573.9 L1228.8,582.7 L1236.2,590.6 L1245.4,597.4 L1252.8,601.0 L1263.9,604.2 L1275.0,605.1" fill="none" stroke="#0cf40c" stroke-width="3.0" stroke-linejoin="round" stroke-dasharray="6.5,4.3"/>
<path d="M817.2,606.1 L818.1,604.8 L819.1,602.7 L820.9,596.3 L822.8,588.0 L824.6,578.5 L825.5,572.5 L826.5,565.3 L827.4,557.2 L828.3,548.3 L829.2,539.0 L830.2,528.7 L831.1,516.8 L832.0,503.7 L832.9,489.7 L833.9,475.2 L834.8,460.6 L835.7,446.2 L836.6,432.4 L837.6,419.5 L838.5,406.3 L839.4,392.9 L840.3,379.4 L841.3,366.1 L842.2,353.2 L843.1,341.1 L844.0,330.0 L845.0,320.1 L845.9,311.7 L846.8,304.5 L847.7,297.9 L849.6,286.7 L851.4,277.5 L854.2,266.0 L856.1,259.9 L857.2,257.1 L875.5,278.1 L876.4,269.4 L877.3,261.0 L878.3,252.9 L879.2,245.2 L880.1,237.8 L881.0,230.7 L882.0,224.0 L882.9,217.8 L884.7,206.6 L886.6,197.1 L888.4,188.8 L891.2,178.1 L893.1,172.6 L897.7,163.1 L900.5,158.6 L902.3,156.4 L904.2,155.1 L915.3,153.9 L926.4,153.1 L937.4,151.0 L948.5,148.1 L959.6,144.9 L970.7,141.4 L981.8,137.5 L992.9,133.2 L1003.1,128.7 L1012.4,122.7 L1020.7,117.9 L1025.3,116.7 L1029.9,116.9 L1040.1,120.6 L1042.9,122.6 L1050.3,131.5 L1056.7,140.2 L1063.2,150.0 L1068.8,159.1 L1074.3,168.3 L1079.9,178.1 L1085.4,188.2 L1091.0,198.8 L1095.6,207.9 L1100.2,217.4 L1104.8,227.2 L1109.5,237.4 L1114.1,248.0 L1118.7,259.0 L1122.4,267.9 L1126.1,276.9 L1129.8,285.9 L1133.5,295.1 L1137.2,304.9 L1140.9,315.6 L1143.7,324.2 L1146.5,333.2 L1149.2,342.5 L1152.0,352.0 L1154.8,361.6 L1157.6,371.4 L1160.3,381.5 L1163.1,391.8 L1165.9,402.2 L1168.6,412.6 L1171.4,423.1 L1174.2,433.9 L1177.0,444.8 L1179.7,455.6 L1182.5,466.1 L1185.3,476.2 L1188.1,486.2 L1190.8,496.1 L1193.6,505.6 L1196.4,514.5 L1200.1,525.4 L1203.8,535.7 L1207.5,545.1 L1212.1,555.5 L1216.7,564.5 L1222.3,573.9 L1228.8,582.7 L1236.2,590.6 L1245.4,597.4 L1252.8,601.0 L1263.9,604.2 L1275.0,605.1" fill="none" stroke="#0cf40c" stroke-width="3.0" stroke-linejoin="round" stroke-dasharray="6.5,4.3"/>
<path d="M173.2,116.6 L173.2,606.1 L636.5,606.1" fill="none" stroke="#111" stroke-width="3"/>
<line x1="173.2" y1="606.1" x2="178.2" y2="606.1" stroke="#111" stroke-width="2.2"/>
<line x1="173.2" y1="466.2" x2="178.2" y2="466.2" stroke="#111" stroke-width="2.2"/>
<line x1="173.2" y1="326.4" x2="178.2" y2="326.4" stroke="#111" stroke-width="2.2"/>
<line x1="173.2" y1="186.5" x2="178.2" y2="186.5" stroke="#111" stroke-width="2.2"/>
<line x1="358.5" y1="606.1" x2="358.5" y2="601.1" stroke="#111" stroke-width="2.2"/>
<line x1="543.8" y1="606.1" x2="543.8" y2="601.1" stroke="#111" stroke-width="2.2"/>
<text x="154.2" y="628.1" text-anchor="end" font-family="Liberation Serif, serif" font-size="63">0</text>
<text x="154.2" y="488.2" text-anchor="end" font-family="Liberation Serif, serif" font-size="63">20</text>
<text x="154.2" y="348.4" text-anchor="end" font-family="Liberation Serif, serif" font-size="63">40</text>
<text x="154.2" y="208.5" text-anchor="end" font-family="Liberation Serif, serif" font-size="63">60</text>
<text x="173.2" y="680" text-anchor="middle" font-family="Liberation Serif, serif" font-size="63">300</text>
<text x="358.5" y="680" text-anchor="middle" font-family="Liberation Serif, serif" font-size="63">500</text>
<text x="543.8" y="680" text-anchor="middle" font-family="Liberation Serif, serif" font-size="63">700</text>
<text x="404.9" y="757" text-anchor="middle" font-family="Liberation Serif, serif" font-size="63">&#955; (nm)</text>
<text x="50.3" y="363.5" text-anchor="middle" font-family="Liberation Serif, serif" font-size="63" transform="rotate(-90 50.3 363.5)">IPCE (%)</text>
<path d="M812.6,116.6 L812.6,606.1 L1275.0,606.1" fill="none" stroke="#111" stroke-width="3"/>
<line x1="812.6" y1="606.1" x2="817.6" y2="606.1" stroke="#111" stroke-width="2.2"/>
<line x1="812.6" y1="508.2" x2="817.6" y2="508.2" stroke="#111" stroke-width="2.2"/>
<line x1="812.6" y1="410.3" x2="817.6" y2="410.3" stroke="#111" stroke-width="2.2"/>
<line x1="812.6" y1="312.4" x2="817.6" y2="312.4" stroke="#111" stroke-width="2.2"/>
<line x1="812.6" y1="214.5" x2="817.6" y2="214.5" stroke="#111" stroke-width="2.2"/>
<line x1="812.6" y1="116.6" x2="817.6" y2="116.6" stroke="#111" stroke-width="2.2"/>
<line x1="997.6" y1="606.1" x2="997.6" y2="601.1" stroke="#111" stroke-width="2.2"/>
<line x1="1182.5" y1="606.1" x2="1182.5" y2="601.1" stroke="#111" stroke-width="2.2"/>
<text x="794.6" y="628.1" text-anchor="end" font-family="Liberation Serif, serif" font-size="63">0</text>
<text x="794.6" y="530.2" text-anchor="end" font-family="Liberation Serif, serif" font-size="63">0.2</text>
<text x="794.6" y="432.3" text-anchor="end" font-family="Liberation Serif, serif" font-size="63">0.4</text>
<text x="794.6" y="334.4" text-anchor="end" font-family="Liberation Serif, serif" font-size="63">0.6</text>
<text x="794.6" y="236.5" text-anchor="end" font-family="Liberation Serif, serif" font-size="63">0.8</text>
<text x="794.6" y="138.6" text-anchor="end" font-family="Liberation Serif, serif" font-size="63">1</text>
<text x="812.6" y="680" text-anchor="middle" font-family="Liberation Serif, serif" font-size="63">300</text>
<text x="997.6" y="680" text-anchor="middle" font-family="Liberation Serif, serif" font-size="63">500</text>
<text x="1182.5" y="680" text-anchor="middle" font-family="Liberation Serif, serif" font-size="63">700</text>
<text x="1043.8" y="757" text-anchor="middle" font-family="Liberation Serif, serif" font-size="63">&#955; (nm)</text>
<text x="675.5" y="368.1" text-anchor="middle" font-family="Liberation Serif, serif" font-size="64" transform="rotate(-90 675.5 368.1)">Relative IPCE</text>
<rect x="112.2" y="770.2" width="585.5" height="170.6" fill="none" stroke="#111" stroke-width="2.6"/>
<line x1="148.2" y1="817.2" x2="325.6" y2="817.2" stroke="#ee1414" stroke-width="3" stroke-linecap="round"/>
<line x1="148.2" y1="893.8" x2="325.6" y2="893.8" stroke="#0cf40c" stroke-width="3" stroke-linecap="round"/>
<text x="346.5" y="839.6" font-family="Liberation Serif, serif" font-size="63">Unpur. MPN</text>
<text x="346.5" y="914.6" font-family="Liberation Serif, serif" font-size="63">Pur. MPN</text>
</svg>
</body></html>
